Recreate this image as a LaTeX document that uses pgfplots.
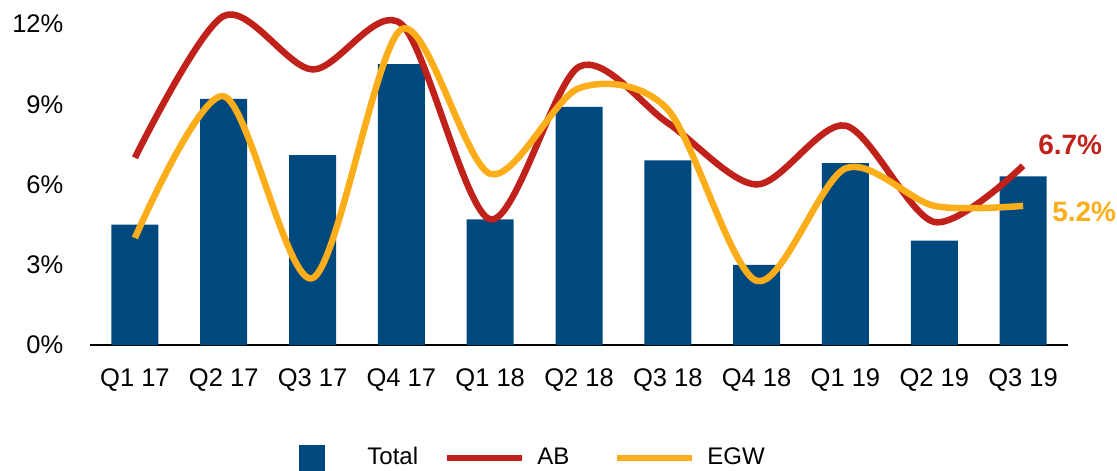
\documentclass[border=0pt]{standalone}
\usepackage{pgfplots}
\pgfplotsset{compat=1.18}
\usepackage{fontspec}
\setmainfont{Liberation Sans}
\definecolor{navy}{HTML}{00497E}
\definecolor{abred}{HTML}{C0211A}
\definecolor{egw}{HTML}{FBAE19}
\begin{document}
\fontsize{24}{28}\selectfont
\begin{tikzpicture}
\begin{axis}[
  at={(0pt,0pt)}, anchor=south west,
  scale only axis, width=977pt, height=321pt,
  xmin=-0.5, xmax=10.5, ymin=0, ymax=12,
  clip=false,
  axis y line=left, y axis line style={draw=none},
  axis x line*=bottom, x axis line style={black, line width=1.6pt},
  major tick length=0pt,
  xtick={0,1,2,3,4,5,6,7,8,9,10},
  xticklabels={Q1 17,Q2 17,Q3 17,Q4 17,Q1 18,Q2 18,Q3 18,Q4 18,Q1 19,Q2 19,Q3 19},
  ytick={0,3,6,9,12},
  yticklabels={0\%,3\%,6\%,9\%,12\%},
  xticklabel style={yshift=-15pt},
  yticklabel style={xshift=-19pt},
  tick label style={font=\fontsize{25.5}{30}\selectfont},
  legend columns=3,
  legend style={draw=none, fill=none, at={(0.449,-0.352)}, anchor=center,
    font=\fontsize{24}{28}\selectfont,
    nodes={inner sep=0pt},
    /tikz/every odd column/.append style={column sep=18pt},
    /tikz/every even column/.append style={column sep=0pt}},
]
\addplot[ybar, bar width=47pt, fill=navy, draw=none, bar shift=0pt,
  legend image code/.code={\path (0pt,0pt) (75pt,0pt);\fill[navy] (25pt,-13pt) rectangle (51pt,13pt);}]
  coordinates {(0,4.5) (1,9.2) (2,7.1) (3,10.5) (4,4.7) (5,8.9) (6,6.9) (7,3.0) (8,6.8) (9,3.9) (10,6.3)};
\addlegendentry{\makebox[76.5pt][l]{Total}}
\addplot[abred, line width=6.5pt, smooth, tension=0.5,
  legend image code/.code={\draw[abred, line width=6.5pt] (0pt,0pt) -- (75pt,0pt);}]
  coordinates {(0,7.0) (1,12.3) (2,10.3) (3,12.0) (4,4.7) (5,10.4) (6,8.3) (7,6.0) (8,8.2) (9,4.6) (10,6.7)};
\addlegendentry{\makebox[70.5pt][l]{\hspace{-6pt}AB}}
\addplot[egw, line width=6.5pt, smooth, tension=0.5,
  legend image code/.code={\draw[egw, line width=6.5pt] (0pt,0pt) -- (75pt,0pt);}]
  coordinates {(0,4.0) (1,9.3) (2,2.5) (3,11.8) (4,6.4) (5,9.6) (6,8.8) (7,2.4) (8,6.6) (9,5.2) (10,5.2)};
\addlegendentry{\makebox[70.5pt][l]{\hspace{-6pt}EGW}}
\node[anchor=west, inner sep=0pt, text=abred, font=\fontsize{28}{32}\selectfont\bfseries, xshift=15pt] at (axis cs:10,7.48) {6.7\%};
\node[anchor=west, inner sep=0pt, text=egw, font=\fontsize{28}{32}\selectfont\bfseries, xshift=29pt] at (axis cs:10,4.97) {5.2\%};
\end{axis}
\pgfresetboundingbox
\path (-90.5pt,-126pt) rectangle (1026.5pt,345pt);
\end{tikzpicture}
\end{document}
